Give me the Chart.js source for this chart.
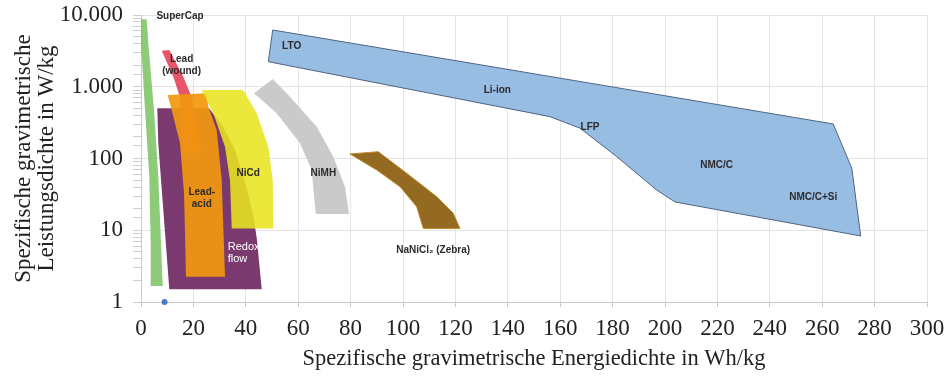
<!DOCTYPE html>
<html>
<head>
<meta charset="utf-8">
<script src="https://cdn.jsdelivr.net/npm/chart.js@4.4.1/dist/chart.umd.min.js"></script>
<style>
  html, body { margin: 0; padding: 0; background: #fff; }
</style>
</head>
<body>
<canvas id="ragone" width="951" height="382"></canvas>
<script>
// outlines of the regions, [energy Wh/kg, power W/kg]
var superCap  = [[-0.7,8710],[0,4036],[1.53,474],[3.17,55.7],[3.7,6.6],[3.7,1.67],[8.28,1.67],[7.63,6.6],[6.6,55.7],[4.96,474],[2.79,4036],[2.18,8710],[-0.7,8710]];
var leadWound = [[7.9,3178],[10.8,3251],[16.15,1380],[19.35,713],[23.17,118],[16.15,118],[14.89,713],[12.33,1380],[7.9,3178]];
var leadAcid  = [[10.19,767],[25.08,811],[25.69,527],[28.89,250],[30.8,50.2],[32.06,2.25],[17.18,2.25],[16.41,33],[14.89,163],[11.72,474],[10.19,767]];
var redoxFlow = [[6.22,501],[25.95,501],[30.92,293],[35.88,131],[40.08,42.7],[43.13,13.9],[44.27,7.3],[46.07,1.5],[10.8,1.5],[8.51,19.2],[6.6,163],[6.22,501]];
var niCd      = [[23.17,901],[39.05,901],[44.16,427],[48.59,146],[50.27,50.2],[50.5,10.6],[34.62,10.6],[33.97,50.2],[32.06,146],[27.6,427],[23.17,901]];
var niMH      = [[43.13,811],[50.27,1282],[56.87,727],[67.06,277],[73.4,106],[77.86,40.5],[79.39,16.8],[66.68,16.8],[65.15,69.2],[60.69,163],[51.79,427],[43.13,811]];
var zebra     = [[79.77,115.6],[90.57,124.4],[101.41,62.2],[112.86,29.4],[119.2,17.2],[121.76,10.6],[107.75,10.6],[105.23,21.3],[98.85,40.5],[89.96,69.2],[79.77,115.6]];
var liIon     = [[50.27,6180],[264.2,303],[271.3,73],[274.7,8.32],[203.8,24.8],[196.8,36.4],[181.6,106],[167.6,264],[156.1,383],[48.59,2234],[50.27,6180]];
var marker    = [[9,1]];

// text inside the regions
var labelText = ['SuperCap', 'Lead\n(wound)', 'Lead-\nacid', 'NiCd', 'NiMH', 'NaNiCl\u2082 (Zebra)', 'LTO', 'Li-ion', 'LFP', 'NMC/C', 'NMC/C+Si'];
var labelX    = [14.9, 15.5, 23.2, 40.95, 69.6, 111.5, 57.5, 136, 171.4, 219.7, 256.6];
var labelY    = [9470, 2010, 28.2, 62.2, 62.2, 5.3, 3615, 881, 272, 79.4, 28.4];
var redoxText = ['Redox', 'flow'];
var redoxX = 33.1, redoxY = 4.9;

var yMajor = [1, 10, 100, 1000, 10000];

function pts(arr) {
  return arr.map(function (p) { return {x: p[0], y: p[1]}; });
}
function shape(arr, color, border) {
  return {
    data: pts(arr),
    backgroundColor: color,
    borderColor: border || 'rgba(0,0,0,0)',
    borderWidth: border ? 1 : 0,
    fill: 'shape',
    pointRadius: 0,
    tension: 0
  };
}
function fmt(v) {
  return String(v).replace(/\B(?=(\d{3})+(?!\d))/g, '.');
}

var labelPlugin = {
  id: 'regionLabels',
  afterDatasetsDraw: function (chart) {
    var ctx = chart.ctx, xs = chart.scales.x, ys = chart.scales.y;
    ctx.save();
    ctx.font = 'bold 10px "Liberation Sans", Arial, sans-serif';
    ctx.fillStyle = '#2b2b2b';
    ctx.textAlign = 'center';
    ctx.textBaseline = 'middle';
    for (var i = 0; i < labelText.length; i++) {
      var lines = labelText[i].split('\n');
      var px = xs.getPixelForValue(labelX[i]);
      var py = ys.getPixelForValue(labelY[i]) - (lines.length - 1) * 6;
      lines.forEach(function (t, k) { ctx.fillText(t, px, py + k * 12); });
    }
    ctx.font = '11px "Liberation Sans", Arial, sans-serif';
    ctx.fillStyle = '#ffffff';
    ctx.textAlign = 'left';
    var rx = xs.getPixelForValue(redoxX), ry = ys.getPixelForValue(redoxY);
    ctx.fillText(redoxText[0], rx, ry - 6);
    ctx.fillText(redoxText[1], rx, ry + 6);
    ctx.restore();
  }
};

var serif = '"Liberation Serif", "Times New Roman", serif';

new Chart(document.getElementById('ragone'), {
  type: 'line',
  data: {
    datasets: [
      {data: pts(marker), showLine: false, pointRadius: 3, pointBackgroundColor: '#4a7cc7', pointBorderWidth: 0, clip: false},
      shape(liIon, '#98bde3', '#4f6480'),
      shape(zebra, '#946a22', '#c08a2a'),
      shape(niMH, '#cacaca'),
      shape(superCap, 'rgba(125,196,102,0.88)'),
      shape(niCd, 'rgba(232,228,32,0.88)'),
      shape(leadAcid, 'rgba(242,152,14,0.92)'),
      shape(leadWound, 'rgba(232,72,92,0.92)'),
      shape(redoxFlow, '#7b3a6f')
    ]
  },
  options: {
    responsive: false,
    animation: false,
    layout: {padding: {top: 15, right: 24, left: 0, bottom: 0}},
    plugins: {legend: {display: false}, tooltip: {enabled: false}},
    scales: {
      x: {
        type: 'linear',
        min: 0, max: 300,
        ticks: {stepSize: 20, color: '#222', font: {family: serif, size: 23}, padding: 8, maxRotation: 0},
        grid: {color: '#e4e4e4', tickColor: '#c8c8c8', tickLength: 5},
        border: {color: '#c8c8c8'},
        title: {display: true, text: 'Spezifische gravimetrische Energiedichte in Wh/kg', color: '#222', font: {family: serif, size: 22.5}, padding: {top: 0, bottom: 9}},
        afterFit: function (s) { s.height = 80; s.paddingLeft = 0; s.paddingRight = 0; }
      },
      y: {
        type: 'logarithmic',
        min: 1, max: 10000,
        ticks: {
          autoSkip: false,
          color: '#222',
          font: {family: serif, size: 23},
          padding: 10,
          callback: function (v) { return yMajor.indexOf(v) >= 0 ? fmt(v) : ''; }
        },
        grid: {
          color: function (c) { return c.tick && yMajor.indexOf(c.tick.value) >= 0 ? '#e4e4e4' : 'rgba(0,0,0,0)'; },
          tickColor: '#cfcfcf',
          tickLength: 8
        },
        border: {color: '#c8c8c8'},
        title: {display: true, text: ['Spezifische gravimetrische', 'Leistungsdichte in W/kg'], color: '#222', font: {family: serif, size: 23, lineHeight: 1.0}, padding: {top: 12, bottom: 0}},
        afterFit: function (s) { s.width = 141; s.paddingTop = 0; s.paddingBottom = 0; }
      }
    }
  },
  plugins: [labelPlugin]
});
</script>
</body>
</html>
